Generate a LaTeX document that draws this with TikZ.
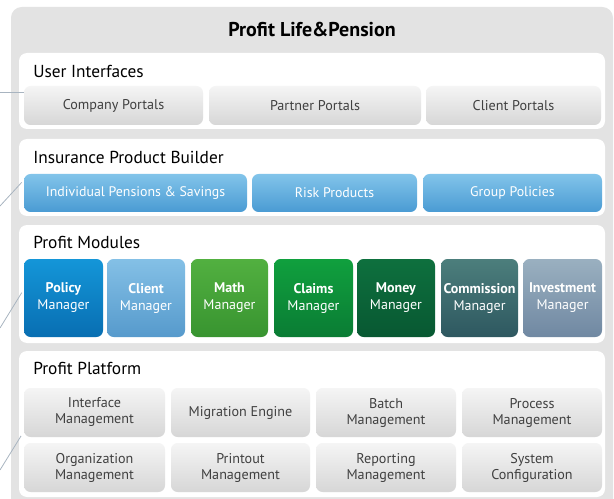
\documentclass[tikz,border=0pt]{standalone}
\usepackage{fontspec}
\setmainfont{PT Sans}
\definecolor{panel}{HTML}{E3E3E3}
\definecolor{leader}{HTML}{A8B4C0}
\definecolor{graytxt}{HTML}{404040}
\definecolor{pbT}{RGB}{130,196,234}\definecolor{pbB}{RGB}{74,155,211}
\definecolor{m1T}{RGB}{20,150,216}\definecolor{m1B}{RGB}{8,110,178}
\definecolor{m2T}{RGB}{132,192,230}\definecolor{m2B}{RGB}{86,154,204}
\definecolor{m3T}{RGB}{82,176,64}\definecolor{m3B}{RGB}{56,148,48}
\definecolor{m4T}{RGB}{16,160,62}\definecolor{m4B}{RGB}{10,124,52}
\definecolor{m5T}{RGB}{14,112,62}\definecolor{m5B}{RGB}{8,88,50}
\definecolor{m6T}{RGB}{76,126,124}\definecolor{m6B}{RGB}{46,88,96}
\definecolor{m7T}{RGB}{154,176,192}\definecolor{m7B}{RGB}{112,136,162}
\tikzset{
  grid/.style={inner sep=0pt, rounded corners=5pt},
  section/.style={grid, fill=white, rounded corners=6pt},
  graybox/.style={grid, top color=black!4, bottom color=black!16, text=graytxt, font=\fontsize{10.6}{12}\selectfont, align=center},
  bluebox/.style={grid, top color=pbT, bottom color=pbB, text=white, font=\fontsize{10.4}{12}\selectfont},
  modbox/.style={grid, top color=#1T, bottom color=#1B, text=white, font=\fontsize{10.5}{12.75}\selectfont, align=center},
  heading/.style={anchor=west, inner sep=0pt, font=\fontsize{13}{15}\selectfont, text=black},
  leaderline/.style={draw=leader, line width=0.6pt}
}
\newcommand\bx[7]{\node[minimum width={(#4-#2)*0.75pt}, minimum height={(#5-#3)*0.75pt}, #6] (#1) at ({(#2+#4)/2},{(#3+#5)/2}) {#7};}
\newcommand\mgr[1]{\textbf{#1}\\Manager}
\begin{document}
\begin{tikzpicture}[x=0.75pt,y=-0.75pt]
\useasboundingbox (0,0) rectangle (614,499);
\clip (0,0) rectangle (614,499);
% outer panel
\bx{outer}{11}{7}{613}{515}{fill=panel, rounded corners=8pt, inner sep=0pt}{}
\node[font=\fontsize{15}{18}\selectfont\bfseries] (title) at (312,30) {Profit Life\&Pension};
% sections
\bx{s1}{19}{53}{605}{129}{section}{}
\bx{s2}{19}{139}{605}{216}{section}{}
\bx{s3}{19}{225}{605}{343}{section}{}
\bx{s4}{19}{351}{605}{497}{section}{}
\node[heading] (h1) at (33,71) {User Interfaces};
\node[heading] (h2) at (33,157) {Insurance Product Builder};
\node[heading] (h3) at (33,242) {Profit Modules};
\node[heading] (h4) at (33,368) {Profit Platform};
% user interfaces
\bx{ui1}{24}{86}{203}{125}{graybox}{Company Portals}
\bx{ui2}{209}{86}{421}{125}{graybox}{Partner Portals}
\bx{ui3}{426}{86}{601}{125}{graybox}{Client Portals}
% product builder
\bx{pb1}{24}{174}{247}{212}{bluebox}{Individual Pensions \& Savings}
\bx{pb2}{252}{174}{417}{212}{bluebox}{Risk Products}
\bx{pb3}{423}{174}{602}{212}{bluebox}{Group Policies}
% modules
\bx{m1}{24}{259}{103}{337}{modbox=m1}{\mgr{Policy}}
\bx{m2}{107}{259}{185}{337}{modbox=m2}{\mgr{Client}}
\bx{m3}{191}{259}{268}{337}{modbox=m3}{\mgr{Math}}
\bx{m4}{274}{259}{353}{337}{modbox=m4}{\mgr{Claims}}
\bx{m5}{357}{259}{435}{337}{modbox=m5}{\mgr{Money}}
\bx{m6}{441}{259}{518}{337}{modbox=m6}{\mgr{Commission}}
\bx{m7}{523}{259}{602}{337}{modbox=m7}{\mgr{Investment}}
% platform
\bx{p1}{24}{388}{165}{437}{graybox}{Interface\\Management}
\bx{p2}{171}{388}{310}{437}{graybox}{Migration Engine}
\bx{p3}{316}{388}{456}{437}{graybox}{Batch\\Management}
\bx{p4}{462}{388}{602}{437}{graybox}{Process\\Management}
\bx{p5}{24}{443}{165}{492}{graybox}{Organization\\Management}
\bx{p6}{171}{443}{310}{492}{graybox}{Printout\\Management}
\bx{p7}{316}{443}{456}{492}{graybox}{Reporting\\Management}
\bx{p8}{462}{443}{602}{492}{graybox}{System\\Configuration}
% leader lines
\coordinate (l1) at (0,92);
\coordinate (l2) at (0,206);
\coordinate (l3) at (0,328);
\coordinate (l4) at (0,470);
\draw[leaderline] (l1) -- (l1 -| ui1.west);
\draw[leaderline] (l2) -- ([xshift=-1.5pt,yshift=8pt]pb1.west);
\draw[leaderline] (l3) -- ([xshift=-1.5pt,yshift=4pt]m1.west);
\draw[leaderline] (l4) -- ([xshift=-2pt,yshift=1pt]p1.south west);
\end{tikzpicture}
\end{document}
